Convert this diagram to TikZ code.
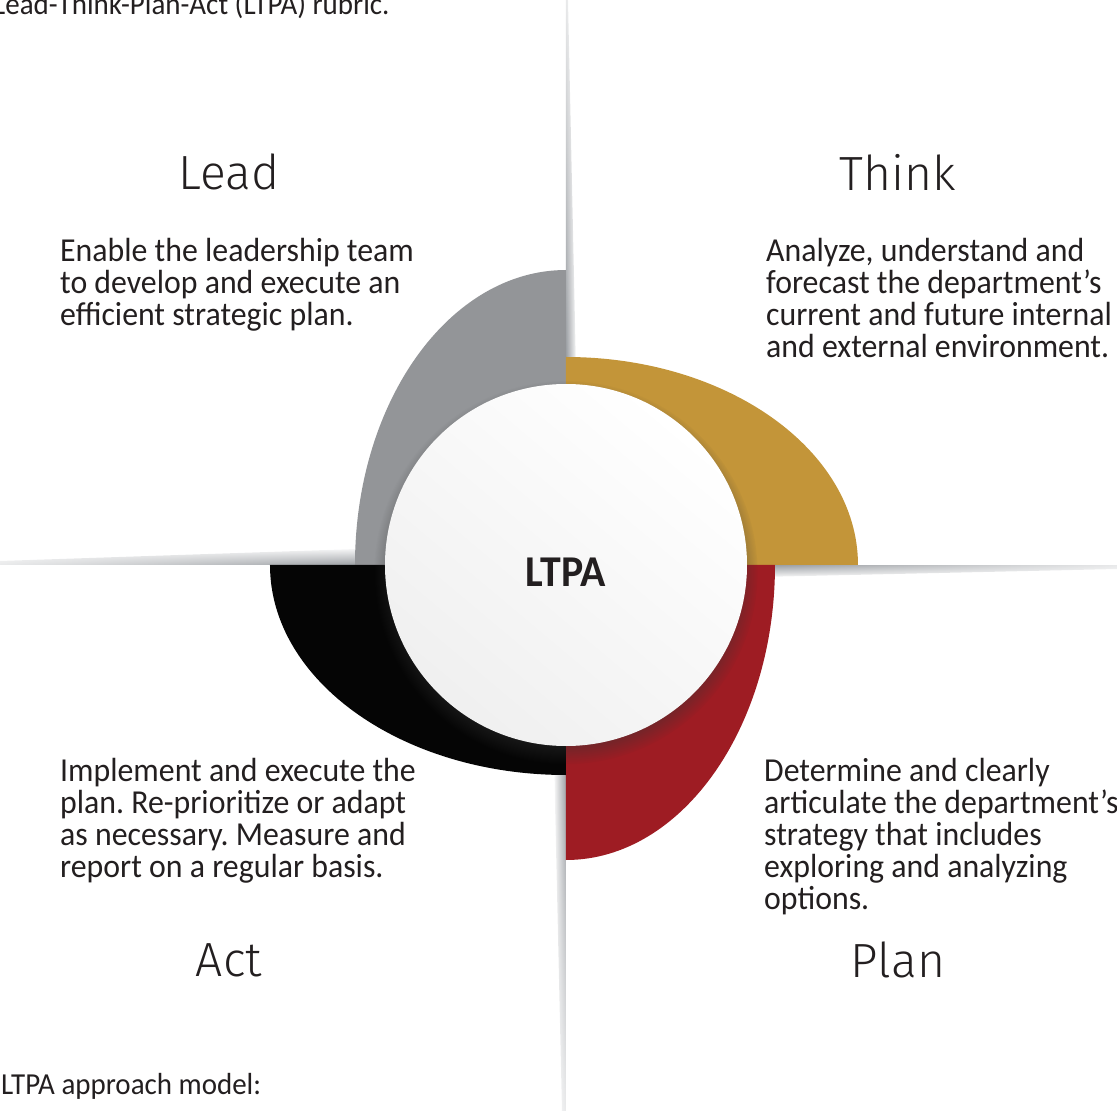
\documentclass[tikz,border=0pt]{standalone}
\usepackage{fontspec}
\setmainfont{Carlito}[FakeStretch=0.95]
\newfontfamily\headfont{Fira Sans Light}
\usetikzlibrary{shadows,fadings}

\definecolor{leadgray}{HTML}{939598}
\definecolor{thinkgold}{HTML}{C39539}
\definecolor{planred}{HTML}{9E1C23}
\definecolor{actblack}{HTML}{050505}
\definecolor{beamgray}{HTML}{8F9398}
\definecolor{textdark}{HTML}{231F20}

\tikzfading[name=beamfade, top color=transparent!80, bottom color=transparent!0]

\frenchspacing
\begin{document}
\begin{tikzpicture}[
                    x=1pt, y=1pt,
                    heading/.style={font=\headfont\fontsize{48}{52}\selectfont, text=textdark, inner sep=0pt},
                    blurb/.style={font=\fontsize{33.5}{32}\selectfont, text=textdark, align=left, anchor=north west, inner sep=0pt},
                    caption/.style={font=\fontsize{30.5}{32}\selectfont, text=textdark, anchor=base west, inner sep=0pt},
                    beam/.style={path fading=beamfade}
                    ]
        \useasboundingbox (-566,-546) rectangle (551,565);

        % the four shadowed dividers
        \shade[beam, left color=beamgray, right color=white, fading angle=0]
            (0,150) -- (11,150) -- (2,565) -- (0,565) -- cycle;
        \shade[beam, top color=white, bottom color=beamgray, fading angle=90]
            (-150,0) -- (-150,18) -- (-566,4) -- (-566,0) -- cycle;
        \shade[beam, top color=beamgray, bottom color=white, fading angle=-90]
            (150,0) -- (150,-13) -- (551,-4) -- (551,0) -- cycle;
        \shade[beam, left color=white, right color=beamgray, fading angle=180]
            (0,-150) -- (-13,-150) -- (-4,-546) -- (0,-546) -- cycle;

        % quarter segments
        \fill[leadgray] (0,0) -- (0,295) arc[start angle=90, end angle=180, x radius=211, y radius=295] -- cycle;
        \fill[thinkgold] (0,0) -- (292,0) arc[start angle=0, end angle=90, x radius=292, y radius=208] -- cycle;
        \fill[planred] (0,0) -- (0,-295) arc[start angle=270, end angle=360, x radius=209, y radius=295] -- cycle;
        \fill[actblack] (0,0) -- (-296,0) arc[start angle=180, end angle=270, x radius=296, y radius=210] -- cycle;

        \node[circle, minimum size=362pt, inner sep=0pt, top color=white, bottom color=black!6, shading angle=-40,
              circular drop shadow={shadow xshift=0pt, shadow yshift=-7pt, shadow scale=1.06, opacity=.6, fill=black!80}] (hub) at (0,0) {};
        \node[font=\bfseries\fontsize{44}{46}\selectfont, text=textdark] (ltpa) at ([yshift=-7pt]hub.center) {LTPA};

        \node[heading] (lead) at (-337,393) {Lead};
        \node[heading] (think) at (332,393) {Think};
        \node[heading] (act) at (-337,-395) {Act};
        \node[heading] (plan) at (332,-395) {Plan};

        \node[blurb] (leadtext) at (-506,327) {Enable the leadership team\\to develop and execute an\\efficient strategic plan.};
        \node[blurb] (thinktext) at (200,327) {Analyze, understand and\\forecast the department’s\\current and future internal\\and external environment.};
        \node[blurb] (acttext) at (-506,-193) {Implement and execute the\\plan. Re-prioritize or adapt\\as necessary. Measure and\\report on a regular basis.};
        \node[blurb] (plantext) at (198,-193) {Determine and clearly\\articulate the department’s\\strategy that includes\\exploring and analyzing\\options.};

        \node[caption] (rubric) at (-573,550) {Lead-Think-Plan-Act (LTPA) rubric.};
        \node[caption] (model) at (-565,-529) {LTPA approach model:};
\end{tikzpicture}
\end{document}
